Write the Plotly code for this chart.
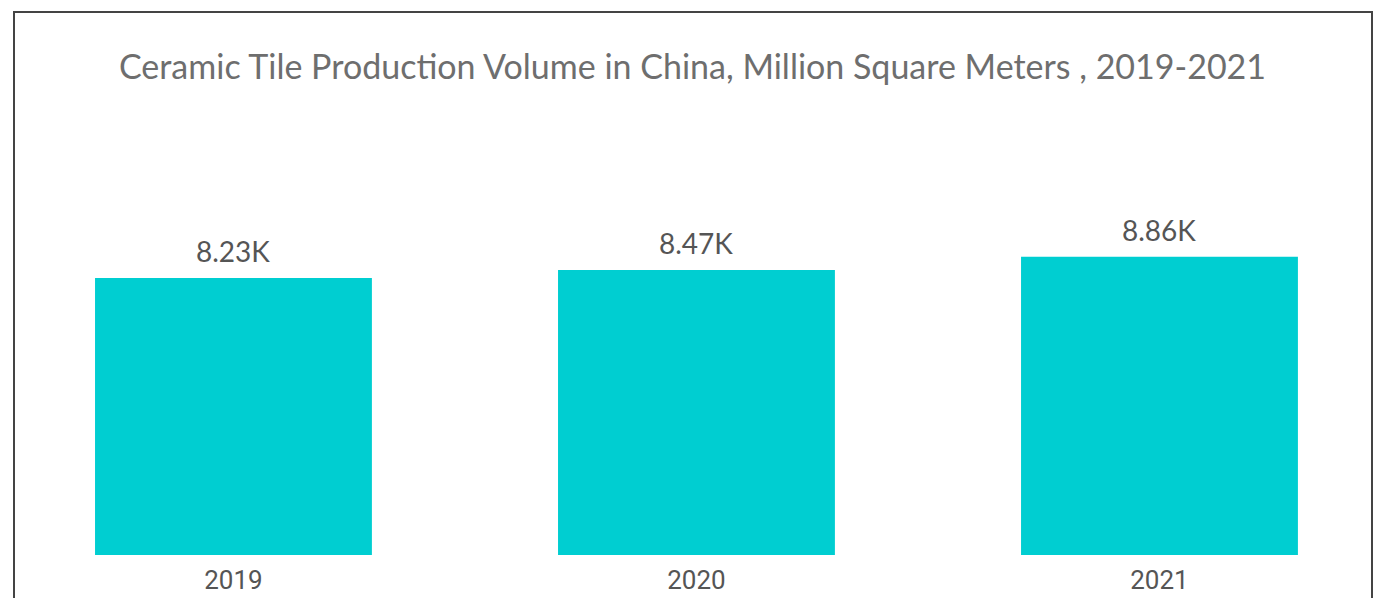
import plotly.graph_objects as go

years = ["2019", "2020", "2021"]
values = [8230, 8470, 8860]
labels = [f"{v/1000:.2f}K" for v in values]

BAR_COLOR = "#00CED1"

fig = go.Figure()
fig.add_trace(go.Bar(
    x=years, y=values, marker=dict(color=BAR_COLOR, line=dict(width=0)),
    hoverinfo="skip", showlegend=False,
))

for i, (v, lab) in enumerate(zip(values, labels)):
    fig.add_annotation(x=i, y=v, xref="x", yref="y", text=lab, showarrow=False,
                       yanchor="bottom", yshift=8,
                       font=dict(family="Lato", size=28, color="#555555"))

fig.update_layout(
    width=1385, height=598,
    margin=dict(l=14, r=13, t=150, b=43, autoexpand=False),
    paper_bgcolor="white", plot_bgcolor="white",
    bargap=0.402,
    title=dict(text="Ceramic Tile Production Volume in China, Million Square Meters , 2019-2021",
               x=0.5, xanchor="center", y=1 - 67/598, yanchor="middle",
               font=dict(family="Lato", size=34, color="#6e6e6e")),
    xaxis=dict(type="category", range=[-0.474, 2.459], showgrid=False, zeroline=False,
               showline=False, ticks="", ticklabelstandoff=7, automargin=False,
               tickfont=dict(family="Roboto", size=26, color="#555555")),
    yaxis=dict(range=[0, 12033], showgrid=False, zeroline=False, showline=False,
               showticklabels=False, ticks="", automargin=False),
    shapes=[dict(type="rect", xref="paper", yref="paper", x0=0, x1=1,
                 y0=-0.2, y1=(555-12)/405, line=dict(color="#444444", width=2),
                 fillcolor="rgba(0,0,0,0)", layer="above")],
)

fig.write_html("out.html", config={"displayModeBar": False},
               post_script="document.body.style.margin='0';")
